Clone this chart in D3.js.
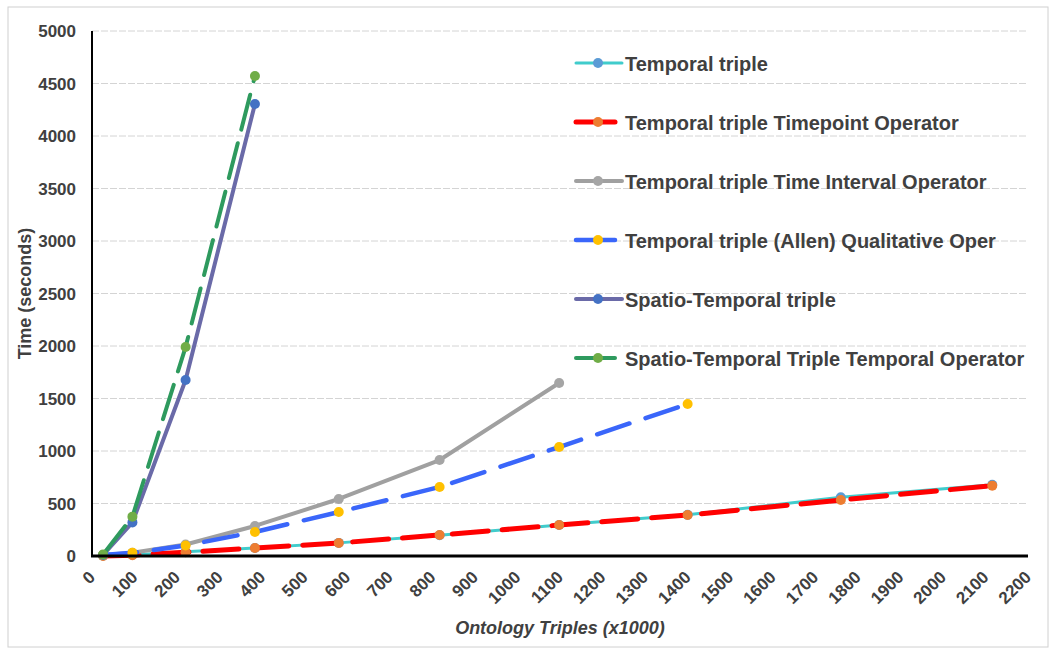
<!DOCTYPE html>
<html lang="en">
<head>
<meta charset="utf-8">
<title>Ontology triples vs time</title>
<style>
  body { margin: 0; background: #fff; }
  svg { display: block; }
  text { font-family: "Liberation Sans", Arial, sans-serif; font-weight: bold; fill: #404040; }
</style>
<script src="https://d3js.org/d3.v7.min.js"></script>
</head>
<body>
<script>
// x positions (thousands of triples) shared by every series
var triples = [26, 95, 220, 383, 580, 817, 1098, 1400, 1760, 2116];

var temporal       = [2, 10, 40, 76, 125, 198, 295, 392, 560, 678];
var timepoint      = [0, 8, 35, 76, 124, 200, 295, 390, 533, 670];
var timeInterval   = [10, 30, 110, 286, 543, 914, 1648];
var allen          = [10, 30, 100, 229, 419, 657, 1038, 1448];
var spatioTemporal = [10, 320, 1676, 4305];
var spatioOperator = [15, 375, 1990, 4571];

var seriesNames = [
  "Temporal triple",
  "Temporal triple Timepoint Operator",
  "Temporal triple Time Interval Operator",
  "Temporal triple (Allen) Qualitative Oper",
  "Spatio-Temporal triple",
  "Spatio-Temporal Triple Temporal Operator"
];
var seriesValues = [temporal, timepoint, timeInterval, allen, spatioTemporal, spatioOperator];

var xTicks = d3.range(0, 2201, 100);
var yTicks = d3.range(0, 5001, 500);

// styling per series
var lineColors = ["#40cccc", "#ff0000", "#a0a0a0", "#3a66fa", "#6a6aa8", "#2e9a5e"];
var dotColors  = ["#5b9bd5", "#ed7d31", "#a5a5a5", "#ffc000", "#4472c4", "#70ad47"];
var widths     = [3, 5, 4, 4.5, 4, 4];
var dashes     = [null, "36,14", null, "34,17", null, "36,14"];

var w = 1054, h = 651;
var svg = d3.select("body").append("svg").attr("width", w).attr("height", h);

svg.append("rect")
   .attr("x", 8).attr("y", 7).attr("width", 1040).attr("height", 640)
   .attr("fill", "none").attr("stroke", "#d0d0d0").attr("stroke-width", 1);

var x = d3.scaleLinear().domain([0, 2200]).range([92, 1028]);
var y = d3.scaleLinear().domain([0, 5000]).range([556, 31]);

// gridlines
svg.append("g").selectAll("line")
   .data(yTicks.filter(function (d) { return d > 0; }))
   .enter().append("line")
   .attr("x1", x(0)).attr("x2", x(2200))
   .attr("y1", function (d) { return y(d); })
   .attr("y2", function (d) { return y(d); })
   .attr("stroke", "#d4d4d4")
   .attr("stroke-dasharray", "7,2");

// y tick labels
svg.append("g").selectAll("text")
   .data(yTicks).enter().append("text")
   .attr("x", 76)
   .attr("y", function (d) { return y(d); })
   .attr("dy", "0.36em")
   .style("text-anchor", "end")
   .style("font-size", "17px")
   .text(function (d) { return d; });

// x tick labels, rotated
svg.append("g").selectAll("text")
   .data(xTicks).enter().append("text")
   .attr("transform", function (d) { return "translate(" + x(d) + ",574) rotate(-45)"; })
   .attr("dy", "0.35em")
   .style("text-anchor", "end")
   .style("font-size", "17px")
   .text(function (d) { return d; });

// axis titles
svg.append("text")
   .attr("transform", "translate(25," + ((y(0) + y(5000)) / 2) + ") rotate(-90)")
   .attr("dy", "0.35em")
   .style("text-anchor", "middle")
   .style("font-size", "18px")
   .text("Time (seconds)");

svg.append("text")
   .attr("x", (x(0) + x(2200)) / 2)
   .attr("y", 634)
   .style("text-anchor", "middle")
   .style("font-size", "18px")
   .style("font-style", "italic")
   .text("Ontology Triples (x1000)");

// series
var line = d3.line()
   .x(function (d) { return x(d[0]); })
   .y(function (d) { return y(d[1]); });

seriesValues.forEach(function (vals, i) {
  var pts = vals.map(function (v, j) { return [triples[j], v]; });
  var g = svg.append("g");
  g.append("path")
   .attr("d", line(pts))
   .attr("fill", "none")
   .attr("stroke", lineColors[i])
   .attr("stroke-width", widths[i])
   .attr("stroke-linejoin", "round")
   .attr("stroke-linecap", "round")
   .attr("stroke-dasharray", dashes[i]);
  g.selectAll("circle").data(pts).enter().append("circle")
   .attr("cx", function (d) { return x(d[0]); })
   .attr("cy", function (d) { return y(d[1]); })
   .attr("r", 5)
   .attr("fill", dotColors[i]);
});

// axis lines
svg.append("line")
   .attr("x1", x(0)).attr("x2", x(0)).attr("y1", y(5000)).attr("y2", y(0))
   .attr("stroke", "#000").attr("stroke-width", 2);
svg.append("line")
   .attr("x1", x(0) - 1).attr("x2", x(2200)).attr("y1", y(0)).attr("y2", y(0))
   .attr("stroke", "#000").attr("stroke-width", 3);

// legend
var legendY = [63, 122, 181, 240, 299, 358];
var legend = svg.append("g");
seriesNames.forEach(function (name, i) {
  var ly = legendY[i];
  var x2 = dashes[i] ? 615 : 622;
  legend.append("line")
    .attr("x1", 576).attr("x2", x2).attr("y1", ly).attr("y2", ly)
    .attr("stroke", lineColors[i]).attr("stroke-width", widths[i])
    .attr("stroke-linecap", "round");
  legend.append("circle")
    .attr("cx", 598).attr("cy", ly).attr("r", 5)
    .attr("fill", dotColors[i]);
  legend.append("text")
    .attr("x", 625).attr("y", ly + 8)
    .style("font-size", "20px")
    .text(name);
});
</script>
</body>
</html>
